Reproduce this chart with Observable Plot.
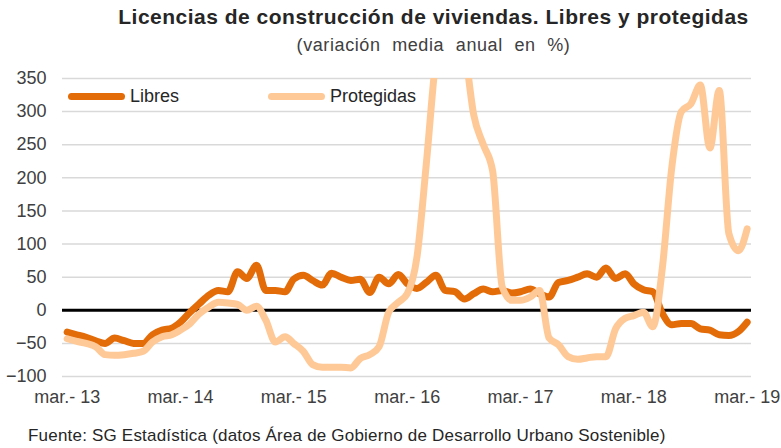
<!DOCTYPE html>
<html><head><meta charset="utf-8">
<script src="https://cdn.jsdelivr.net/npm/d3@7"></script>
<script src="https://cdn.jsdelivr.net/npm/@observablehq/plot@0.6"></script>
<style>
body{margin:0;background:#fff;font-family:"Liberation Sans",Arial,sans-serif;}
#wrap{position:relative;width:781px;height:448px;overflow:hidden;background:#fff}
#title{position:absolute;left:86px;width:695px;top:5px;text-align:center;font-weight:bold;font-size:21px;letter-spacing:0.5px;color:#262626;white-space:nowrap}
#sub{position:absolute;left:86px;width:695px;top:35px;text-align:center;font-size:18px;letter-spacing:0.6px;color:#404040;word-spacing:6px;white-space:nowrap}
#chart{position:absolute;left:0;top:64px}
#src{position:absolute;left:28px;top:426px;font-size:17px;letter-spacing:0.2px;color:#262626;white-space:nowrap}
.leg{position:absolute;top:86px;font-size:18px;color:#262626;display:flex;align-items:center;white-space:nowrap}
.sw{display:inline-block;width:57px;height:7px;border-radius:3.5px;margin-right:5px}
</style></head>
<body><div id="wrap">
<div id="title">Licencias de construcción de viviendas. Libres y protegidas</div>
<div id="sub">(variación media anual en %)</div>
<div id="chart"></div>
<div class="leg" style="left:68px"><span class="sw" style="background:#E36C09"></span>Libres</div>
<div class="leg" style="left:268px"><span class="sw" style="background:#FFC997"></span>Protegidas</div>
<div id="src">Fuente: SG Estadística (datos Área de Gobierno de Desarrollo Urbano Sostenible)</div>
</div>
<script>
const startMonth = "2013-03-01";
const seriesNames = ["Libres", "Protegidas"];
const seriesColors = ["#E36C09", "#FFC997"];
const libres = [-33,-37,-41,-46,-50,-42,-46,-50,-50,-37,-30,-27,
  -18,-3,10,23,30,28,58,48,68,30,30,28,
  47,53,45,38,56,50,45,47,27,50,40,54,
  40,33,42,53,30,28,17,25,32,28,30,26,
  28,32,25,20,42,45,50,55,50,64,48,55,
  40,31,28,-5,-22,-20,-20,-28,-30,-37,-38,-32,
  -18];
const protegidas = [-43,-47,-50,-55,-67,-68,-67,-65,-62,-48,-40,-37,
  -30,-20,-5,5,12,11,9,0,6,-15,-48,-40,
  -50,-62,-82,-86,-86,-86,-87,-73,-67,-55,-3,12,
  25,80,220,380,460,480,400,295,250,210,35,15,
  15,20,30,-42,-52,-70,-74,-72,-70,-70,-28,-12,
  -8,-3,-25,65,215,300,312,340,245,332,116,90,
  123];
const yTicks = [-100,-50,0,50,100,150,200,250,300,350];
const xTickYears = ["13","14","15","16","17","18","19"];

const start = new Date(startMonth);
const months = d3.utcMonth.range(start, d3.utcMonth.offset(start, libres.length));
const rows = [];
[libres, protegidas].forEach((vals, s) => vals.forEach((v, i) => rows.push({date: months[i], value: v, serie: seriesNames[s]})));
const xTicks = xTickYears.map(y => new Date(`20${y}-03-01`));

const plot = Plot.plot({
  width: 781, height: 350,
  marginLeft: 62, marginRight: 30, marginTop: 14, marginBottom: 38,
  style: {fontFamily: '"Liberation Sans", Arial, sans-serif', fontSize: "18px", color: "#404040", background: "transparent"},
  x: {type: "utc", domain: [new Date("2013-02-14"), new Date("2019-03-15")], ticks: xTicks, tickFormat: d => "mar.- " + d3.utcFormat("%y")(d), tickSize: 0, tickPadding: 14, label: null},
  y: {domain: [-100, 350], ticks: yTicks, tickSize: 0, tickPadding: 16, label: null, grid: false},
  marks: [
    Plot.ruleY(yTicks, {stroke: "#d9d9d9", strokeWidth: 1.5}),
    Plot.ruleY([0], {stroke: "#000", strokeWidth: 3}),
    Plot.lineY(rows.filter(d => d.serie === "Libres"), {x: "date", y: "value", stroke: seriesColors[0], strokeWidth: 7, curve: "monotone-x", clip: true, strokeLinecap: "round", strokeLinejoin: "round"}),
    Plot.lineY(rows.filter(d => d.serie === "Protegidas"), {x: "date", y: "value", stroke: seriesColors[1], strokeWidth: 7, curve: "monotone-x", clip: true, strokeLinecap: "round", strokeLinejoin: "round"})
  ]
});
document.getElementById("chart").appendChild(plot);
</script>
</body></html>
